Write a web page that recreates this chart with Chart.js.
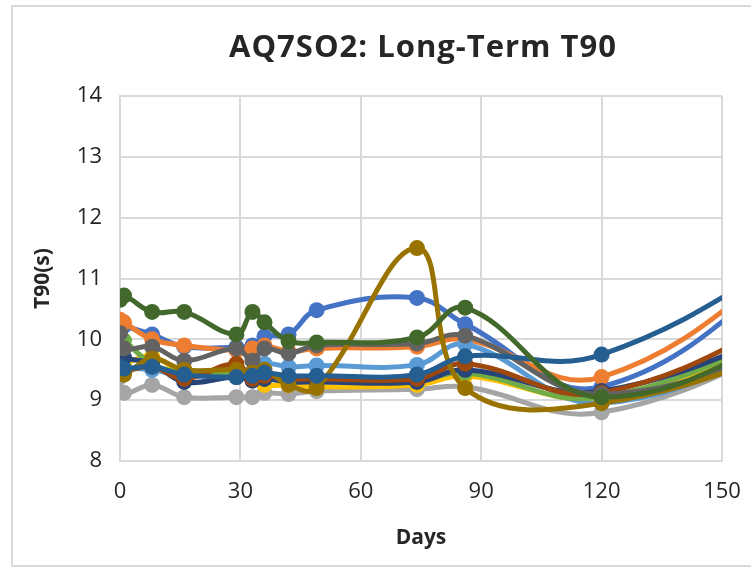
<!DOCTYPE html>
<html>
<head>
<meta charset="utf-8">
<script src="https://cdn.jsdelivr.net/npm/chart.js@4.4.1/dist/chart.umd.min.js"></script>
<style>
  html, body { margin:0; padding:0; background:#fff; }
  #wrap { width:751px; height:567px; position:relative; }
</style>
</head>
<body>
<div id="wrap"><canvas id="chart" width="751" height="567"></canvas></div>
<script>
// sample days; the last one sits past the axis end (the curves run off the right edge)
const days = [0, 1, 8, 16, 29, 33, 36, 42, 49, 74, 86, 120, 180];

const blueVals      = [10.25, 10.22, 10.08, 9.88, 9.87, 9.90, 10.05, 10.08, 10.48, 10.68, 10.25, 9.22, 11.85];
const orangeVals    = [10.32, 10.28, 10.00, 9.90, 9.82, 9.85, 9.90, 9.80, 9.85, 9.88, 10.00, 9.38, 11.95];
const lightGrayVals = [9.38, 9.12, 9.25, 9.05, 9.05, 9.05, 9.12, 9.10, 9.15, 9.18, 9.22, 8.80, 10.30];
const yellowVals    = [9.58, 9.60, 9.72, 9.45, 9.45, 9.35, 9.25, 9.25, 9.22, 9.25, 9.40, 9.05, 10.35];
const lightBlueVals = [9.50, 9.52, 9.50, 9.40, 9.42, 9.45, 9.60, 9.55, 9.57, 9.58, 9.92, 8.95, 10.35];
const greenVals     = [10.02, 9.98, 9.60, 9.45, 9.45, 9.40, 9.45, 9.35, 9.32, 9.33, 9.45, 9.05, 10.50];
const navyVals      = [9.78, 9.70, 9.60, 9.30, 9.38, 9.32, 9.35, 9.30, 9.30, 9.30, 9.50, 9.15, 10.50];
const brownVals     = [9.50, 9.48, 9.55, 9.35, 9.60, 9.35, 9.40, 9.35, 9.35, 9.35, 9.60, 9.12, 10.80];
const darkGrayVals  = [10.10, 9.85, 9.88, 9.65, 9.85, 9.65, 9.85, 9.77, 9.90, 9.93, 10.06, 9.10, 10.20];
const mustardVals   = [9.45, 9.42, 9.68, 9.50, 9.50, 9.45, 9.50, 9.25, 9.20, 11.50, 9.20, 8.95, 10.10];
const darkBlueVals  = [9.55, 9.52, 9.55, 9.42, 9.38, 9.40, 9.45, 9.40, 9.40, 9.42, 9.72, 9.75, 11.85];
const darkGreenVals = [10.65, 10.72, 10.45, 10.45, 10.08, 10.45, 10.28, 9.97, 9.95, 10.03, 10.52, 9.05, 10.50];

const xTicks = [0, 30, 60, 90, 120, 150];
const yTicks = [8, 9, 10, 11, 12, 13, 14];

// excel series order, later ones end up on top
const series = [
  { vals: blueVals,      color:'#4472C4' },
  { vals: orangeVals,    color:'#ED7D31' },
  { vals: lightGrayVals, color:'#A5A5A5' },
  { vals: yellowVals,    color:'#FFC000' },
  { vals: lightBlueVals, color:'#5B9BD5' },
  { vals: greenVals,     color:'#70AD47' },
  { vals: navyVals,      color:'#264478' },
  { vals: brownVals,     color:'#9E480E' },
  { vals: darkGrayVals,  color:'#636363' },
  { vals: mustardVals,   color:'#997300' },
  { vals: darkBlueVals,  color:'#255E91' },
  { vals: darkGreenVals, color:'#43682B' }
];

const datasets = series.map((s, i) => ({
  data: s.vals.map((v, k) => ({ x: days[k], y: v })),
  borderColor: s.color,
  backgroundColor: s.color,
  pointBackgroundColor: s.color,
  pointBorderWidth: 0,
  pointRadius: 8,
  borderWidth: 5,
  tension: 0.4,
  order: series.length - i
}));

const GRID = '#d9d9d9';

// title + outer frame drawn on the canvas
const decor = {
  id: 'decor',
  beforeDraw(chart){
    const c = chart.ctx;
    c.save();
    c.strokeStyle = GRID;
    c.lineWidth = 2;
    c.strokeRect(12, 6, 800, 560);
    c.restore();
  },
  afterDraw(chart){
    const c = chart.ctx;
    c.save();
    c.fillStyle = '#262626';
    c.font = 'bold 31px "Open Sans"';
    c.letterSpacing = '1px';
    c.textAlign = 'center';
    c.textBaseline = 'middle';
    c.fillText('AQ7SO2: Long-Term T90', 423, 48);
    c.restore();
  }
};

new Chart(document.getElementById('chart'), {
  type: 'line',
  data: { datasets },
  plugins: [decor],
  options: {
    responsive: false,
    animation: false,
    layout: { padding: { top: 96, right: 29, left: 0, bottom: 0 } },
    plugins: { legend: { display:false }, tooltip: { enabled:false }, title: { display:false } },
    scales: {
      x: {
        type: 'linear', min: 0, max: 150,
        afterBuildTicks: s => { s.ticks = xTicks.map(v => ({ value: v })); },
        afterFit: s => { s.height = 106; s.paddingLeft = 0; s.paddingRight = 0; },
        grid: { color: GRID, lineWidth: 2, drawTicks: false },
        border: { color: GRID, width: 2 },
        ticks: { padding: 18, color:'#262626', font: { family:'"Open Sans"', size: 22 } },
        title: { display: true, text: 'Days', color:'#262626', padding: { top: 0, bottom: 16 },
                 font: { family:'"Open Sans"', size: 21, weight: 'bold' } }
      },
      y: {
        min: 8, max: 14,
        afterBuildTicks: s => { s.ticks = yTicks.map(v => ({ value: v })); },
        afterFit: s => { s.width = 120; s.paddingTop = 0; s.paddingBottom = 0; },
        grid: { color: GRID, lineWidth: 2, drawTicks: false },
        border: { color: GRID, width: 2 },
        ticks: { padding: 18, color:'#262626', font: { family:'"Open Sans"', size: 22 } },
        title: { display: true, text: 'T90(s)', color:'#262626', padding: { top: 30, bottom: 0 },
                 font: { family:'"Open Sans"', size: 21, weight: 'bold' } }
      }
    }
  }
});
</script>
</body>
</html>
